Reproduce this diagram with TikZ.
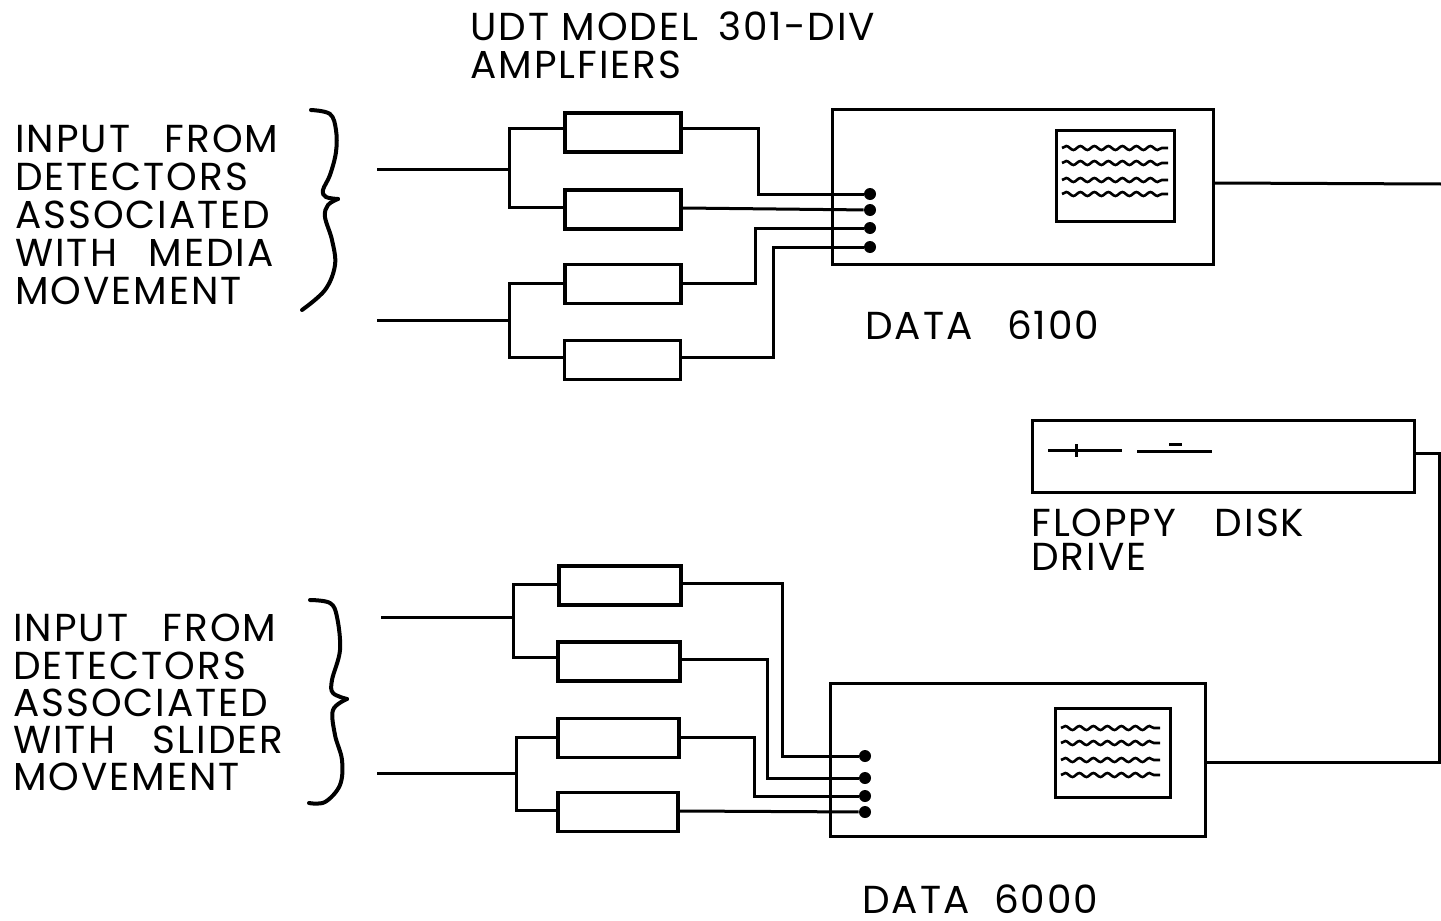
\documentclass[tikz,border=0pt]{standalone}
\usepackage{fontspec}
\setmainfont{Poppins}[LetterSpace=5]
\usetikzlibrary{positioning, calc, decorations.pathmorphing}
\tikzset{
    ampbox/.style={draw, line width=1.8pt, inner sep=0pt, minimum width=#1, minimum height=19.5pt},
    ampbox/.default=58pt,
    wire/.style={line width=1.5pt},
    pindot/.style={circle, fill, inner sep=0pt, minimum width=6pt, minimum height=6pt},
    unitbox/.style={draw, line width=1.5pt, inner sep=0pt},
    trace/.style={line width=1.3pt, decorate, decoration={snake, amplitude=1pt, segment length=7pt}},
    caption/.style={anchor=north west, align=left, inner sep=0pt, font=\fontsize{19.5}{19pt}\selectfont}
}

\begin{document}
\begin{tikzpicture}[x=0.5pt, y=-0.5pt]
    \useasboundingbox (0,0) rectangle (1441,921);

    % Labels
    \node[caption] (ampname) at (470,11) {UDT MODEL\hspace{4pt} 301-DIV\\AMPLFIERS};
    \node[caption] (topinput) at (15,125) {INPUT\ \ \hspace{5pt}FROM\\DETECTORS\\ASSOCIATED\\WITH\hspace{16pt}MEDIA\\MOVEMENT};
    \node[caption, font=\fontsize{19.5}{18.6pt}\selectfont] (botinput) at (13,614) {INPUT\ \ \hspace{5pt}FROM\\DETECTORS\\ASSOCIATED\\WITH\hspace{19pt}SLIDER\\MOVEMENT};
    \node[caption] (toplabel) at (865,310) {DATA\ \ \hspace{5pt}6100};
    \node[caption] (botlabel) at (862,884) {DATA\ \ 6000};
    \node[caption, font=\fontsize{19.5}{17pt}\selectfont] (floppylabel) at (1031,509) {FLOPPY\ \ \hspace{7pt}DISK\\DRIVE};

    % Braces
    \draw[line width=2pt, line cap=round] plot[smooth, tension=0.6] coordinates {(311,110) (330,114) (336,130) (336,152) (330,175) (323,190) (326,197) (338,199)};
    \draw[line width=2pt, line cap=round] plot[smooth, tension=0.6] coordinates {(338,199) (328,205) (325,217) (332,240) (335,265) (325,290) (302,310)};
    \draw[line width=2pt, line cap=round] plot[smooth, tension=0.6] coordinates {(310,600) (330,603) (337,617) (340,650) (332,680) (333,693) (347,699)};
    \draw[line width=2pt, line cap=round] plot[smooth, tension=0.6] coordinates {(347,699) (333,710) (335,735) (342,760) (340,785) (325,802) (309,803)};

    % Upper amplifiers
    \node[ampbox] (a1) at (623,132.5) {};
    \node[ampbox] (a2) at (623,209.5) {};
    \node[ampbox] (a3) at (623,284) {};
    \node[ampbox] (a4) at (622.5,360) {};

    % Lower amplifiers
    \node[ampbox=61pt] (b1) at (620,585.5) {};
    \node[ampbox=61pt] (b2) at (619,661.5) {};
    \node[ampbox=60.5pt] (b3) at (618.5,738) {};
    \node[ampbox=60pt] (b4) at (618,812) {};

    % Data units
    \node[unitbox, minimum width=190.5pt, minimum height=77.5pt] (data1) at (1022.5,187) {};
    \node[unitbox, minimum width=59pt, minimum height=45.5pt] (screen1) at (1115,175.5) {};
    \node[unitbox, minimum width=187.5pt, minimum height=76.5pt] (data2) at (1017.5,759.5) {};
    \node[unitbox, minimum width=57.5pt, minimum height=44.5pt] (screen2) at (1112.5,752.5) {};
    \node[unitbox, minimum width=191pt, minimum height=36pt] (floppy) at (1223,456) {};

    % Pins
    \node[pindot] (p1) at (870,194) {};
    \node[pindot] (p2) at (870,210) {};
    \node[pindot] (p3) at (870,228) {};
    \node[pindot] (p4) at (870,247) {};
    \node[pindot] (q1) at (865,756) {};
    \node[pindot] (q2) at (865,778) {};
    \node[pindot] (q3) at (865,796) {};
    \node[pindot] (q4) at (865,812) {};

    % Inputs
    \coordinate (in1) at (377,169);
    \coordinate (in2) at (377,320);
    \coordinate (in3) at (381,617);
    \coordinate (in4) at (377,773);
    \coordinate (j1) at (509,169);
    \coordinate (j2) at (509,320);
    \coordinate (j3) at (513,617);
    \coordinate (j4) at (516,773);
    \draw[wire] (in1) -- (j1);
    \draw[wire] (in2) -- (j2);
    \draw[wire] (in3) -- (j3);
    \draw[wire] (in4) -- (j4);

    % Splits
    \draw[wire] (a1.west |- 0,128) -- (j1 |- 0,128) -- (j1 |- 0,207) -- (a2.west |- 0,207);
    \draw[wire] (a3.west |- 0,283) -- (j2 |- 0,283) -- (j2 |- 0,357) -- (a4.west |- 0,357);
    \draw[wire] (b1.west |- 0,584) -- (j3 |- 0,584) -- (j3 |- 0,657) -- (b2.west |- 0,657);
    \draw[wire] (b3.west |- 0,737) -- (j4 |- 0,737) -- (j4 |- 0,810) -- (b4.west |- 0,810);

    % Outputs
    \draw[wire] (a1.east |- 0,128) -- (758,128) |- (p1);
    \draw[wire] (a2.east |- 0,208) -- (p2);
    \draw[wire] (a3.east |- 0,283) -- (755,283) |- (p3);
    \draw[wire] (a4.east |- 0,357) -- (773,357) |- (p4);
    \draw[wire] (b1.east |- 0,583) -- (782,583) |- (q1);
    \draw[wire] (b2.east |- 0,659) -- (767,659) |- (q2);
    \draw[wire] (b3.east |- 0,737) -- (754,737) |- (q3);
    \draw[wire] (b4.east |- 0,811) -- (q4);

    % Link between units
    \coordinate (edge1) at (1441,184);
    \coordinate (edge2) at (1439,453);
    \coordinate (edge3) at (1439,762);
    \draw[wire] (data1.east |- 0,183) -- (edge1);
    \draw[wire] (floppy.east |- edge2) -- (edge2) -- (edge3) -- (data2.east |- edge3);

    % Screen traces
    \foreach \y in {148,163,180,194} \draw[trace] (1062,\y) -- (1168,\y);
    \foreach \y in {728,743,760,775} \draw[trace] (1061,\y) -- (1160,\y);

    % Floppy slots
    \draw[wire] (1048,450) -- (1122,450);
    \draw[wire] (1076,444) -- (1076,457);
    \draw[wire] (1137,451) -- (1212,451);
    \draw[wire] (1169,444) -- (1182,444);
\end{tikzpicture}
\end{document}
